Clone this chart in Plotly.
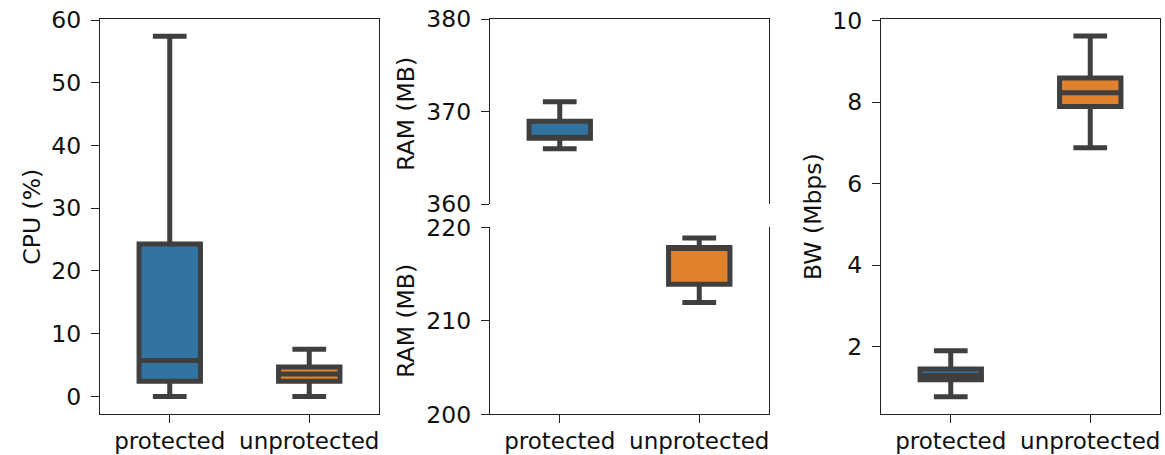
import plotly.graph_objects as go

# ---- data ----
categories = ["protected", "unprotected"]

cpu_lower = [0.0, 0.0]
cpu_q1 = [2.42, 2.42]
cpu_median = [5.72, 3.58]
cpu_q3 = [24.3, 4.70]
cpu_upper = [57.4, 7.52]

ram_lower = [365.98, 211.96]
ram_q1 = [367.1, 213.91]
ram_median = [367.1, 217.84]
ram_q3 = [368.94, 217.84]
ram_upper = [371.05, 218.86]

bw_lower = [0.773, 6.88]
bw_q1 = [1.19, 7.89]
bw_median = [1.29, 8.23]
bw_q3 = [1.45, 8.59]
bw_upper = [1.90, 9.62]

fill_colors = ["#3274A1", "#E1812C"]
line_color = "#3F3F3F"

y_titles = ["CPU (%)", "RAM (MB)", "RAM (MB)", "BW (Mbps)"]

W, H = 1165, 455
FONT = dict(family="DejaVu Sans", size=23.5, color="#111111")
XFONT = dict(family="DejaVu Sans", size=23, color="#111111")
AX = "#222222"


def fx(px):
    return px / W


def fy(py):
    return 1 - py / H


fig = go.Figure()


def add_boxes(xa, ya, lower, q1, med, q3, upper):
    for i, c in enumerate(categories):
        fig.add_trace(go.Box(
            x=[c], lowerfence=[lower[i]], q1=[q1[i]], median=[med[i]],
            q3=[q3[i]], upperfence=[upper[i]],
            fillcolor=fill_colors[i],
            line=dict(color=line_color, width=5),
            width=0.44, whiskerwidth=0.55,
            xaxis=xa, yaxis=ya, showlegend=False, boxpoints=False,
        ))


add_boxes("x", "y", cpu_lower, cpu_q1, cpu_median, cpu_q3, cpu_upper)
add_boxes("x2", "y2", ram_lower, ram_q1, ram_median, ram_q3, ram_upper)
add_boxes("x3", "y3", ram_lower, ram_q1, ram_median, ram_q3, ram_upper)
add_boxes("x4", "y4", bw_lower, bw_q1, bw_median, bw_q3, bw_upper)

common_x = dict(
    type="category", categoryorder="array", categoryarray=categories,
    range=[-0.5, 1.5], showgrid=False, zeroline=False,
    showline=True, linecolor=AX, linewidth=1.3,
    tickfont=XFONT, automargin=False, fixedrange=True,
)
common_y = dict(
    showgrid=False, zeroline=False, showline=True, linecolor=AX,
    linewidth=1.3, mirror=True, ticks="outside", ticklen=8, tickwidth=1.3,
    tickcolor=AX, tickfont=FONT, automargin=False, ticklabelstandoff=5,
)
xt = dict(ticks="outside", ticklen=8, tickwidth=1.3, tickcolor=AX,
          ticklabelstandoff=-2)

p1 = [fx(100), fx(379)]
p2 = [fx(490), fx(769)]
p3 = [fx(881), fx(1160)]
full_y = [fy(414.3), fy(19)]

fig.update_layout(
    width=W, height=H,
    margin=dict(l=0, r=0, t=0, b=0),
    paper_bgcolor="white", plot_bgcolor="white",
    font=FONT, boxmode="overlay",
    xaxis=dict(**common_x, **xt, domain=p1, anchor="y", mirror=True),
    yaxis=dict(**common_y, domain=full_y, anchor="x", range=[-2.85, 60.16],
               tickvals=[0, 10, 20, 30, 40, 50, 60]),
    xaxis2=dict(**common_x, domain=p2, anchor="y2", side="top",
                showticklabels=False, ticks=""),
    yaxis2=dict(**common_y, domain=[fy(204), fy(19)], anchor="x2",
                range=[360, 380], tickvals=[360, 370, 380]),
    xaxis3=dict(**common_x, **xt, domain=p2, anchor="y3"),
    yaxis3=dict(**common_y, domain=[fy(414.3), fy(227.3)], anchor="x3",
                range=[200, 220], tickvals=[200, 210, 220]),
    xaxis4=dict(**common_x, **xt, domain=p3, anchor="y4", mirror=True),
    yaxis4=dict(**common_y, domain=full_y, anchor="x4", range=[0.34, 10.04],
                tickvals=[2, 4, 6, 8, 10]),
)

title_pos = [(31.7, 217), (405.8, 114), (405.8, 321), (812.3, 216.7)]
for t, (px, py) in zip(y_titles, title_pos):
    fig.add_annotation(
        text=t, x=fx(px), y=fy(py), xref="paper", yref="paper",
        xanchor="center", yanchor="middle", textangle=-90,
        showarrow=False, font=FONT,
    )

fig.write_html(
    "out.html",
    config={"displayModeBar": False},
    post_script="document.body.style.margin='0';document.body.style.overflow='hidden';",
)
